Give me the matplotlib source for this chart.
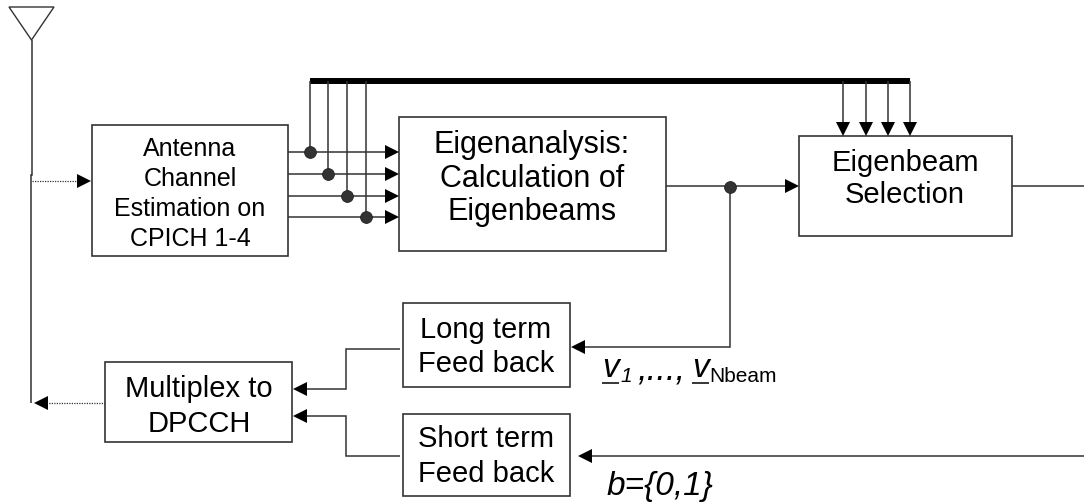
import matplotlib
matplotlib.use("Agg")
import matplotlib.pyplot as plt
from matplotlib.patches import Rectangle

plt.rcParams["font.family"] = ["Liberation Sans", "DejaVu Sans"]

LINE = "#333333"

# x0, y0, x1, y1 in image pixels
boxes = [
    (92, 125, 288, 256),
    (399, 117, 666, 251),
    (799, 136, 1012, 236),
    (403, 303, 570, 387),
    (403, 414, 570, 496),
    (105, 362, 292, 442),
]

# text, centre x, baseline y, size
box_labels = [
    ("Antenna", 190, 156, 18),
    ("Channel", 190, 186, 18),
    ("Estimation on", 190, 216, 18),
    ("CPICH 1-4", 190, 246, 18),
    ("Eigenanalysis:", 532, 153, 22),
    ("Calculation of", 532, 187, 22),
    ("Eigenbeams", 532, 220, 22),
    ("Eigenbeam", 905, 171, 21),
    ("Selection", 905, 203, 21),
    ("Long term", 486, 338, 21),
    ("Feed back", 486, 372, 21),
    ("Short term", 486, 447, 21),
    ("Feed back", 486, 482, 21),
    ("Multiplex to", 199, 397, 21),
    ("DPCCH", 199, 432, 21),
]

# plain connection lines
wires = [
    [(32, 40), (32, 175), (31, 175), (31, 403)],
    [(666, 186), (785, 186)],
    [(730, 186), (730, 347), (584, 347)],
    [(1012, 186), (1084, 186)],
    [(1084, 456), (591, 456)],
    [(400, 349), (346, 349), (346, 389), (306, 389)],
    [(400, 456), (346, 456), (346, 416), (306, 416)],
]
dotted_wires = [[(32, 181), (78, 181)], [(105, 403), (47, 403)]]

input_y = [152, 174, 196, 217]
tap_x = [310, 328, 347, 366]
bus_drop_x = [843, 866, 888, 910]
bus_y = 81

# tip x, tip y, direction
arrow_tips = [
    (91, 181, "r"), (799, 186, "r"), (571, 347, "l"), (578, 456, "l"),
    (293, 389, "l"), (293, 416, "l"), (34, 403, "l"),
]
dots = [(730, 187)]


def arrow(ax, x, y, way, length=14, half=7):
    if way == "r":
        pts = [(x, y), (x - length, y - half), (x - length, y + half)]
    elif way == "l":
        pts = [(x, y), (x + length, y - half), (x + length, y + half)]
    else:
        pts = [(x, y), (x - half, y - length), (x + half, y - length)]
    ax.fill(*zip(*pts), color="black", lw=0, zorder=4)


def wire(ax, pts, **kw):
    xs, ys = zip(*pts)
    ax.plot(xs, ys, color=kw.pop("color", LINE), lw=kw.pop("lw", 1.1),
            solid_joinstyle="miter", solid_capstyle="butt", **kw)


fig = plt.figure(figsize=(10.84, 5.03), dpi=100)
ax = fig.add_axes([0, 0, 1, 1])
ax.set_xlim(0, 1084)
ax.set_ylim(503, 0)
ax.axis("off")

# antenna
ax.fill([9, 54, 31.5], [7, 7, 40], facecolor="white", edgecolor=LINE, lw=1.0)

for x0, y0, x1, y1 in boxes:
    ax.add_patch(Rectangle((x0, y0), x1 - x0, y1 - y0, facecolor="white",
                           edgecolor=LINE, lw=1.2, zorder=3))

for text, x, y, size in box_labels:
    ax.text(x, y, text, fontsize=size, ha="center", va="baseline", color="black", zorder=5)

for pts in wires:
    wire(ax, pts)
for pts in dotted_wires:
    wire(ax, pts, lw=0.9, linestyle=(0, (1, 1)))

# bus with its tap lines
ax.plot([310, 910], [bus_y, bus_y], color="black", lw=4.3, solid_capstyle="butt")
for x, y in zip(tap_x, input_y):
    wire(ax, [(288, y), (386, y)])
    wire(ax, [(x, bus_y), (x, y)])
    arrow(ax, 399, y, "r", length=14, half=7)
    dots.append((x, y))
for x in bus_drop_x:
    wire(ax, [(x, bus_y), (x, 123)])
    arrow(ax, x, 136, "d")

for x, y, way in arrow_tips:
    arrow(ax, x, y, way)
ax.plot(*zip(*dots), "o", ms=8.5, mfc="#333333", mec="#222222", mew=0.6, ls="none", zorder=4)

# beam labels
ax.text(602, 377, "v", fontsize=24, style="italic", va="baseline")
ax.text(620, 382, "1", fontsize=15, style="italic", va="baseline")
ax.text(637, 379, ",...,", fontsize=25, style="italic", va="baseline")
ax.text(692, 377, "v", fontsize=24, style="italic", va="baseline")
ax.text(709, 382, "Nbeam", fontsize=15, va="baseline")
wire(ax, [(602, 383), (619, 383)], color="black")
wire(ax, [(692, 383), (709, 383)], color="black")
ax.text(607, 495, "b={0,1}", fontsize=24, style="italic", va="baseline")

fig.savefig("out.png", dpi=100)
